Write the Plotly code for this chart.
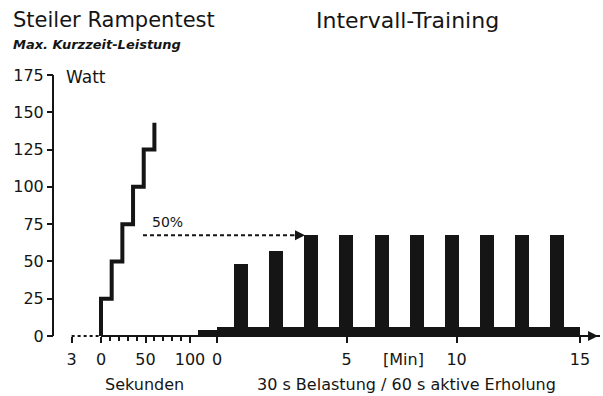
import plotly.graph_objects as go

# ---------------- data ----------------
ramp_seconds = [0, 0, 12, 24, 36, 48, 60]
ramp_watts = [0, 25, 50, 75, 100, 125, 143]

warmup_seconds = [-33, 0]
warmup_watts = [0, 0]

interval_minutes = [1.0, 2.45, 3.9, 5.35, 6.8, 8.25, 9.7, 11.15, 12.6, 14.05]
interval_watts = [48, 57, 68, 68, 68, 68, 68, 68, 68, 68]
load_width_min = 0.58

recovery_start, recovery_end = 0, 15
recovery_watts = 6
prelude_start, prelude_end = -0.78, 0
prelude_watts = 4

target_watts = 67.5  # 50 %

y_ticks = [0, 25, 50, 75, 100, 125, 150, 175]
sec_tickvals = [-33, 0, 50, 100]
sec_ticktext = ["3", "0", "50", "100"]
sec_minor = [10, 20, 30, 40, 60, 70, 80, 90]
min_tickvals = [0, 5.36, 9.9, 15]
min_ticktext = ["0", "5", "10", "15"]

# ---------------- layout geometry ----------------
W, H = 603, 396
L, R_END = 53, 600
T, B_END = 75, 339
PW, PH = R_END - L, B_END - T


def px_x(p):
    return (p - L) / PW


def px_y(p):
    return (B_END - p) / PH


INK = "#151515"
FONT = "DejaVu Sans"
split = px_x(198)
axis_pos = px_y(336)

fig = go.Figure()

# warm-up dotted line
fig.add_trace(go.Scatter(x=warmup_seconds, y=warmup_watts, mode="lines",
                         line=dict(color=INK, width=2, dash="3px,3px"),
                         xaxis="x", yaxis="y", hoverinfo="skip"))
# ramp test steps
fig.add_trace(go.Scatter(x=ramp_seconds, y=ramp_watts, mode="lines",
                         line=dict(color=INK, width=4, shape="hv"),
                         xaxis="x", yaxis="y", hoverinfo="skip"))

# prelude block and recovery band
fig.add_trace(go.Bar(x=[(prelude_start + prelude_end) / 2], y=[prelude_watts],
                     width=[prelude_end - prelude_start], marker_color=INK,
                     marker_line_width=0, xaxis="x2", yaxis="y"))
fig.add_trace(go.Bar(x=[(recovery_start + recovery_end) / 2], y=[recovery_watts],
                     width=[recovery_end - recovery_start], marker_color=INK,
                     marker_line_width=0, xaxis="x2", yaxis="y"))
# load intervals
fig.add_trace(go.Bar(x=interval_minutes, y=interval_watts,
                     width=[load_width_min] * len(interval_minutes),
                     marker_color=INK, marker_line_width=0,
                     xaxis="x2", yaxis="y"))

sec_range = [(L - 101) / 0.89, (198 - 101) / 0.89]
min_range = [(198 - 217) / 24.2, (R_END - 217) / 24.2]

tickfont = dict(family=FONT, size=16, color=INK)

fig.update_layout(
    width=W, height=H, autosize=False,
    margin=dict(l=L, r=W - R_END, t=T, b=H - B_END, pad=0, autoexpand=False),
    paper_bgcolor="white", plot_bgcolor="white",
    showlegend=False, barmode="overlay", bargap=0,
    xaxis=dict(domain=[0, split], range=sec_range, anchor="free", position=axis_pos,
               showline=False, showgrid=False, zeroline=False, automargin=False,
               tickmode="array", tickvals=sec_tickvals, ticktext=sec_ticktext,
               ticks="outside", ticklen=6, tickwidth=2, tickcolor=INK,
               ticklabelstandoff=3, tickfont=tickfont,
               minor=dict(tickvals=sec_minor, ticks="outside", ticklen=4,
                          tickwidth=1.5, tickcolor=INK)),
    xaxis2=dict(domain=[split, 1], range=min_range, anchor="free", position=axis_pos,
                showline=True, linewidth=2, linecolor=INK, automargin=False,
                showgrid=False, zeroline=False,
                tickmode="array", tickvals=min_tickvals, ticktext=min_ticktext,
                ticks="outside", ticklen=6, tickwidth=2, tickcolor=INK,
                ticklabelstandoff=3, tickfont=tickfont),
    yaxis=dict(range=[-2, 175], anchor="free", position=0, automargin=False,
               showline=False, showgrid=False, zeroline=False,
               tickmode="array", tickvals=y_ticks,
               ticks="outside", ticklen=6, tickwidth=2, tickcolor=INK,
               tickfont=tickfont),
)

# y axis line (0 .. 175 W)
fig.add_shape(type="line", xref="paper", yref="y", x0=0, x1=0, y0=0, y1=175,
              line=dict(color=INK, width=2))
# seconds axis baseline (0 s to the end of the seconds section)
fig.add_shape(type="line", xref="x", yref="y", x0=0, x1=sec_range[1], y0=0, y1=0,
              line=dict(color=INK, width=2))

# 50 % dashed arrow
fig.add_shape(type="line", xref="paper", yref="y", x0=px_x(143), x1=px_x(296),
              y0=target_watts, y1=target_watts,
              line=dict(color=INK, width=2, dash="4px,3px"))

ann = []
ann.append(dict(x=px_x(305), y=target_watts, xref="paper", yref="y",
                ax=-12, ay=0, text="", showarrow=True, arrowhead=2,
                arrowsize=1, arrowwidth=2, arrowcolor=INK))
# axis arrow
ann.append(dict(x=min_range[1] - 0.08, y=0, xref="x2", yref="y",
                ax=-14, ay=0, text="", showarrow=True, arrowhead=2,
                arrowsize=1, arrowwidth=2, arrowcolor=INK))


def label(text, x, y, size, xanchor="center", italic=False, weight="normal"):
    ann.append(dict(text=text, x=px_x(x), y=px_y(y), xref="paper", yref="paper",
                    xanchor=xanchor, yanchor="middle", showarrow=False,
                    font=dict(family=FONT, size=size, color=INK, weight=weight,
                              style="italic" if italic else "normal")))


label("Steiler Rampentest", 11, 20, 21, xanchor="left")
label("Intervall-Training", 314, 20, 22, xanchor="left")
label("Max. Kurzzeit-Leistung", 11, 44, 13, xanchor="left", italic=True, weight="bold")
label("Watt", 64, 77, 17, xanchor="left")
label("50%", 167, 222, 14)
label("[Min]", 403, 359, 16)
label("Sekunden", 144, 384, 16)
label("30 s Belastung / 60 s aktive Erholung", 406, 384, 16)

fig.update_layout(annotations=ann)

fig.write_html("out.html", config={"displayModeBar": False},
               post_script="document.body.style.margin='0';")
